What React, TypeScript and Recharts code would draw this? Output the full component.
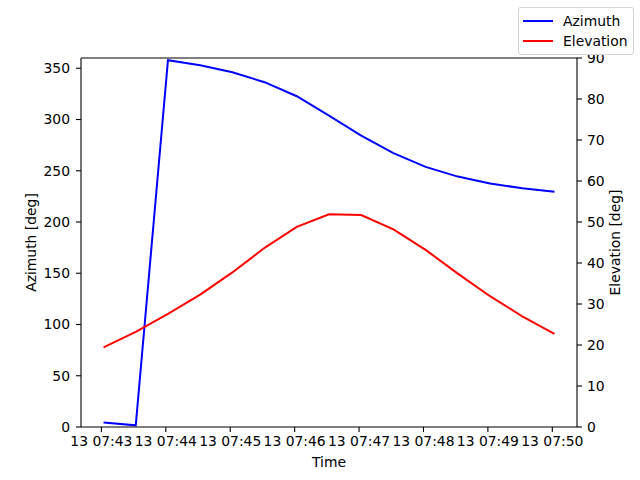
import { LineChart, Line, XAxis, YAxis, Legend, ReferenceLine } from "recharts";

// samples every 30 s on day 13
const times = [
  "07:43:02", "07:43:32", "07:44:02", "07:44:32", "07:45:02",
  "07:45:32", "07:46:02", "07:46:32", "07:47:02", "07:47:32",
  "07:48:02", "07:48:32", "07:49:02", "07:49:32", "07:50:02",
];
const azimuth = [4.5, 1.6, 357.8, 352.9, 346.1, 336.4, 322.7, 303.8, 284.3, 267.1, 253.8, 244.3, 237.5, 233.0, 229.4];
const elevation = [19.4, 23.2, 27.6, 32.3, 37.7, 43.7, 48.8, 51.9, 51.7, 48.2, 43.2, 37.4, 31.9, 27.0, 22.7];
const minuteTicks = ["07:43", "07:44", "07:45", "07:46", "07:47", "07:48", "07:49", "07:50"];
const azTicks = [0, 50, 100, 150, 200, 250, 300, 350];
const elTicks = [0, 10, 20, 30, 40, 50, 60, 70, 80, 90];
const dayLabel = "13";

const BASE = 7 * 3600 + 43 * 60;
const toSec = (s: string) => {
  const [h, m, sec] = s.split(":").map(Number);
  return h * 3600 + m * 60 + (sec || 0) - BASE;
};
const fromSec = (v: number) => {
  const t = v + BASE;
  const h = Math.floor(t / 3600);
  const m = Math.floor((t % 3600) / 60);
  return `${dayLabel} ${String(h).padStart(2, "0")}:${String(m).padStart(2, "0")}`;
};

const data = times.map((t, i) => ({ t: toSec(t), azimuth: azimuth[i], elevation: elevation[i] }));
const first = data[0].t;
const last = data[data.length - 1].t;
const pad = (last - first) * 0.05;

const font = "'DejaVu Sans', sans-serif";
const tickStyle = { fill: "#000", fontSize: 13.9, fontFamily: font };
const axisStroke = { stroke: "#000", strokeWidth: 1.1 };

const series = [
  { key: "azimuth", name: "Azimuth", color: "#0000ff" },
  { key: "elevation", name: "Elevation", color: "#ff0000" },
];

function LegendBox() {
  return (
    <div
      style={{
        border: "1px solid rgba(204,204,204,0.8)",
        borderRadius: 3,
        background: "#fff",
        padding: "3px 5px 3px 4px",
        fontFamily: font,
        fontSize: 13.9,
        color: "#000",
      }}
    >
      {series.map((s) => (
        <div key={s.key} style={{ display: "flex", alignItems: "center", height: 20 }}>
          <span style={{ display: "inline-block", width: 30, height: 2, background: s.color, marginRight: 10 }} />
          <span>{s.name}</span>
        </div>
      ))}
    </div>
  );
}

export default function App() {
  return (
    <div style={{ position: "absolute", left: 0, top: 0, width: 640, height: 480, background: "#fff" }}>
      <LineChart
        width={640}
        height={480}
        data={data}
        margin={{ top: 58, right: 3, bottom: 3, left: 21 }}
        style={{ fontFamily: font }}
      >
        <XAxis
          dataKey="t"
          type="number"
          domain={[first - pad, last + pad]}
          ticks={minuteTicks.map(toSec)}
          tickFormatter={fromSec}
          interval={0}
          height={50}
          tickSize={5}
          tickMargin={4}
          tick={tickStyle}
          axisLine={axisStroke}
          tickLine={axisStroke}
          label={{ value: "Time", position: "insideBottom", offset: 10, fill: "#000", fontSize: 13.9 }}
        />
        <YAxis
          yAxisId="az"
          domain={[0, 360]}
          ticks={azTicks}
          width={60}
          tickSize={5}
          tickMargin={6}
          tick={tickStyle}
          axisLine={axisStroke}
          tickLine={axisStroke}
          label={{ value: "Azimuth [deg]", angle: -90, position: "center", dx: -20, fill: "#000", fontSize: 13.9 }}
        />
        <YAxis
          yAxisId="el"
          orientation="right"
          domain={[0, 90]}
          ticks={elTicks}
          width={60}
          tickSize={5}
          tickMargin={5}
          tick={tickStyle}
          axisLine={axisStroke}
          tickLine={axisStroke}
          label={{ value: "Elevation [deg]", angle: -90, position: "center", dx: 8, fill: "#000", fontSize: 13.9 }}
        />
        <ReferenceLine yAxisId="az" y={360} stroke="#000" strokeWidth={1.1} />
        <Line
          yAxisId="az"
          type="linear"
          dataKey="azimuth"
          name="Azimuth"
          stroke="#0000ff"
          strokeWidth={2}
          dot={false}
          isAnimationActive={false}
        />
        <Line
          yAxisId="el"
          type="linear"
          dataKey="elevation"
          name="Elevation"
          stroke="#ff0000"
          strokeWidth={2}
          dot={false}
          isAnimationActive={false}
        />
        <Legend
          layout="horizontal"
          align="center"
          verticalAlign="middle"
          content={() => <LegendBox />}
          wrapperStyle={{ top: 7, left: 518, width: "auto", height: "auto" }}
        />
      </LineChart>
    </div>
  );
}
